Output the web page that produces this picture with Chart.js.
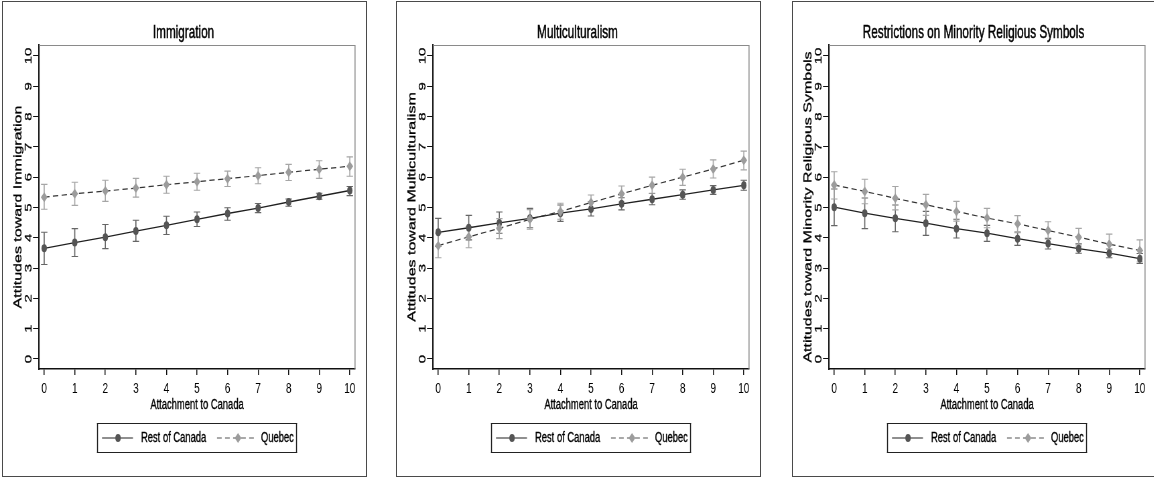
<!DOCTYPE html>
<html><head><meta charset="utf-8">
<script src="https://cdn.jsdelivr.net/npm/chart.js@4.4.1/dist/chart.umd.min.js"></script>
<style>
html,body{margin:0;padding:0;background:#fff;width:1154px;height:478px;overflow:hidden;position:relative;}
.frame{position:absolute;top:1px;height:476px;width:365px;border:1px solid #4a4a4a;box-sizing:border-box;}
.wrap{position:absolute;top:0;transform-origin:0 0;}
canvas{display:block;}
</style></head><body>
<script>
// ---- data ----
const attachment = [0,1,2,3,4,5,6,7,8,9,10];
const xTickValues = [0,1,2,3,4,5,6,7,8,9,10];
const yTickValues = [0,1,2,3,4,5,6,7,8,9,10];
const seriesNames = ['Rest of Canada', 'Quebec'];
const panelTitles = ['Immigration', 'Multiculturalism', 'Restrictions on Minority Religious Symbols'];
const yTitles = ['Attitudes toward Immigration', 'Attitudes toward Multiculturalism', 'Attitudes toward Minority Religious Symbols'];
const xTitle = 'Attachment to Canada';

const immRoc   = [3.65, 3.84, 4.02, 4.22, 4.41, 4.61, 4.80, 4.98, 5.18, 5.37, 5.56];
const immRocLo = [3.12, 3.38, 3.64, 3.88, 4.11, 4.37, 4.58, 4.83, 5.04, 5.27, 5.39];
const immRocHi = [4.18, 4.30, 4.44, 4.58, 4.71, 4.85, 4.99, 5.13, 5.28, 5.47, 5.69];
const immQc    = [5.34, 5.45, 5.54, 5.64, 5.75, 5.85, 5.95, 6.05, 6.16, 6.26, 6.36];
const immQcLo  = [4.94, 5.07, 5.20, 5.34, 5.47, 5.57, 5.69, 5.78, 5.89, 5.96, 6.03];
const immQcHi  = [5.76, 5.83, 5.90, 5.96, 6.03, 6.13, 6.20, 6.31, 6.42, 6.54, 6.67];

const mcRoc    = [4.18, 4.33, 4.49, 4.64, 4.81, 4.95, 5.12, 5.27, 5.42, 5.58, 5.73];
const mcRocLo  = [3.71, 3.93, 4.15, 4.33, 4.54, 4.72, 4.92, 5.09, 5.27, 5.43, 5.57];
const mcRocHi  = [4.64, 4.74, 4.85, 4.97, 5.08, 5.19, 5.32, 5.46, 5.58, 5.72, 5.90];
const mcQc     = [3.74, 4.03, 4.31, 4.61, 4.87, 5.16, 5.45, 5.73, 6.00, 6.27, 6.56];
const mcQcLo   = [3.34, 3.67, 3.97, 4.28, 4.61, 4.92, 5.18, 5.47, 5.73, 5.97, 6.24];
const mcQcHi   = [4.15, 4.37, 4.63, 4.93, 5.14, 5.41, 5.71, 6.00, 6.26, 6.57, 6.86];

const relRoc   = [5.01, 4.81, 4.64, 4.48, 4.30, 4.15, 3.97, 3.81, 3.64, 3.49, 3.31];
const relRocLo = [4.40, 4.30, 4.20, 4.08, 3.99, 3.88, 3.75, 3.63, 3.49, 3.34, 3.15];
const relRocHi = [5.61, 5.31, 5.08, 4.87, 4.61, 4.41, 4.19, 3.98, 3.80, 3.63, 3.48];
const relQc    = [5.74, 5.53, 5.30, 5.09, 4.87, 4.65, 4.46, 4.24, 4.02, 3.79, 3.58];
const relQcLo  = [5.28, 5.12, 4.92, 4.74, 4.55, 4.33, 4.17, 3.95, 3.73, 3.46, 3.20];
const relQcHi  = [6.18, 5.93, 5.69, 5.43, 5.20, 4.97, 4.73, 4.53, 4.31, 4.12, 3.93];

// ---- layout / style ----
const F = 0.67;                 // horizontal squeeze of the original image
const N = v => v / F;           // final px -> natural canvas px
const panelLefts = [2, 396, 792];
const CW = Math.round(N(366)), CH = 478;
const FONT = '"Liberation Sans", Arial, sans-serif';
const TXT = '#000';
const ROC_MARK = '#555555', ROC_LINE = '#202020', ROC_CI = '#666666';
const QC_MARK = '#9c9c9c', QC_LINE = '#333333', QC_CI = '#a6a6a6';

const panels = [
  {title: panelTitles[0], yTitle: yTitles[0], roc: immRoc, rocLo: immRocLo, rocHi: immRocHi, qc: immQc, qcLo: immQcLo, qcHi: immQcHi},
  {title: panelTitles[1], yTitle: yTitles[1], roc: mcRoc, rocLo: mcRocLo, rocHi: mcRocHi, qc: mcQc, qcLo: mcQcLo, qcHi: mcQcHi},
  {title: panelTitles[2], yTitle: yTitles[2], roc: relRoc, rocLo: relRocLo, rocHi: relRocHi, qc: relQc, qcLo: relQcLo, qcHi: relQcHi}
];

function heavyText(ctx, s, x, y, w) {
  ctx.fillText(s, x, y);
  ctx.lineWidth = w; ctx.strokeStyle = ctx.fillStyle;
  ctx.strokeText(s, x, y);
}

function extrasPlugin(p) {
  return {
    id: 'extras',
    beforeDatasetsDraw(chart) {
      const ctx = chart.ctx, xs = chart.scales.x, ys = chart.scales.y;
      const sets = [[p.rocLo, p.rocHi, ROC_CI], [p.qcLo, p.qcHi, QC_CI]];
      ctx.save();
      sets.forEach(([lo, hi, col]) => {
        ctx.strokeStyle = col;
        attachment.forEach((a, i) => {
          const x = xs.getPixelForValue(a);
          const y1 = ys.getPixelForValue(lo[i]), y2 = ys.getPixelForValue(hi[i]);
          ctx.lineWidth = N(1.1);
          ctx.beginPath(); ctx.moveTo(x, y1); ctx.lineTo(x, y2); ctx.stroke();
          ctx.lineWidth = 1.1;
          const w = N(3.2);
          ctx.beginPath(); ctx.moveTo(x - w, y1); ctx.lineTo(x + w, y1);
          ctx.moveTo(x - w, y2); ctx.lineTo(x + w, y2); ctx.stroke();
        });
      });
      ctx.restore();
    },
    afterDraw(chart) {
      const ctx = chart.ctx, ca = chart.chartArea, ys = chart.scales.y;
      ctx.save();
      // plot region box (top & right)
      ctx.strokeStyle = '#8a8a8a';
      ctx.lineWidth = 1;
      ctx.beginPath(); ctx.moveTo(ca.left, ca.top + 0.5); ctx.lineTo(ca.right, ca.top + 0.5); ctx.stroke();
      ctx.lineWidth = N(1);
      ctx.beginPath(); ctx.moveTo(ca.right, ca.top); ctx.lineTo(ca.right, ca.bottom); ctx.stroke();
      ctx.fillStyle = TXT;
      // title
      ctx.font = '17.5px ' + FONT;
      ctx.textAlign = 'center'; ctx.textBaseline = 'alphabetic';
      heavyText(ctx, p.title, N(181.5), 37.5, 0.5);
      // x title
      ctx.font = '14px ' + FONT;
      ctx.textBaseline = 'middle';
      heavyText(ctx, xTitle, (ca.left + ca.right) / 2, 405, 0.35);
      // y tick labels (rotated)
      ctx.font = '15px ' + FONT;
      yTickValues.forEach(v => {
        ctx.save();
        ctx.translate(N(26.5), ys.getPixelForValue(v));
        ctx.rotate(-Math.PI / 2);
        ctx.textAlign = 'center'; ctx.textBaseline = 'middle';
        heavyText(ctx, String(v), 0, 0, 0.3);
        ctx.restore();
      });
      // y title
      ctx.save();
      ctx.translate(N(16.5), (ca.top + ca.bottom) / 2);
      ctx.rotate(-Math.PI / 2);
      ctx.font = '16px ' + FONT;
      ctx.textAlign = 'center'; ctx.textBaseline = 'middle';
      heavyText(ctx, p.yTitle, 0, 0, 0.35);
      ctx.restore();
      // legend
      const ly = 438;
      ctx.strokeStyle = '#222';
      ctx.lineWidth = 1;
      ctx.beginPath(); ctx.moveTo(N(95), 423.5); ctx.lineTo(N(295), 423.5);
      ctx.moveTo(N(95), 452.5); ctx.lineTo(N(295), 452.5); ctx.stroke();
      ctx.lineWidth = N(1);
      ctx.beginPath(); ctx.moveTo(N(95.5), 423); ctx.lineTo(N(95.5), 453);
      ctx.moveTo(N(294.5), 423); ctx.lineTo(N(294.5), 453); ctx.stroke();
      // RoC sample
      ctx.strokeStyle = ROC_LINE; ctx.lineWidth = 1.2;
      ctx.beginPath(); ctx.moveTo(N(100), ly); ctx.lineTo(N(131), ly); ctx.stroke();
      ctx.fillStyle = ROC_MARK;
      ctx.beginPath(); ctx.arc(N(116), ly, 4, 0, Math.PI * 2); ctx.fill();
      // Quebec sample
      ctx.strokeStyle = '#555'; ctx.setLineDash([7, 5]);
      ctx.beginPath(); ctx.moveTo(N(215), ly); ctx.lineTo(N(255), ly); ctx.stroke();
      ctx.setLineDash([]);
      ctx.fillStyle = QC_MARK;
      const dx = N(236);
      ctx.beginPath(); ctx.moveTo(dx - 5, ly); ctx.lineTo(dx, ly - 5); ctx.lineTo(dx + 5, ly); ctx.lineTo(dx, ly + 5); ctx.closePath(); ctx.fill();
      ctx.fillStyle = TXT;
      ctx.font = '14px ' + FONT;
      ctx.textAlign = 'left'; ctx.textBaseline = 'middle';
      heavyText(ctx, seriesNames[0], N(139), ly, 0.35);
      heavyText(ctx, seriesNames[1], N(259), ly, 0.35);
      ctx.restore();
    }
  };
}

panels.forEach((p, k) => {
  const frame = document.createElement('div');
  frame.className = 'frame';
  frame.style.left = panelLefts[k] + 'px';
  document.body.appendChild(frame);
  const wrap = document.createElement('div');
  wrap.className = 'wrap';
  wrap.style.left = panelLefts[k] + 'px';
  wrap.style.transform = 'scaleX(' + F + ')';
  const cv = document.createElement('canvas');
  cv.width = CW; cv.height = CH;
  cv.style.width = CW + 'px'; cv.style.height = CH + 'px';
  wrap.appendChild(cv);
  document.body.appendChild(wrap);

  new Chart(cv, {
    type: 'line',
    data: {
      datasets: [
        {label: seriesNames[0], data: attachment.map((a, i) => ({x: a, y: p.roc[i]})),
         borderColor: ROC_LINE, borderWidth: 1.3, pointStyle: 'circle', pointRadius: 4,
         pointBackgroundColor: ROC_MARK, pointBorderColor: ROC_MARK, pointBorderWidth: 0, order: 1, tension: 0},
        {label: seriesNames[1], data: attachment.map((a, i) => ({x: a, y: p.qc[i]})),
         borderColor: QC_LINE, borderWidth: 1.2, borderDash: [8, 5], pointStyle: 'rectRot', pointRadius: 5,
         pointBackgroundColor: QC_MARK, pointBorderColor: QC_MARK, pointBorderWidth: 0, order: 0, tension: 0}
      ]
    },
    options: {
      responsive: false, animation: false, devicePixelRatio: 1,
      layout: {padding: {top: 45, left: 0, bottom: 0, right: CW - N(353)}},
      plugins: {legend: {display: false}, title: {display: false}, tooltip: {enabled: false}},
      scales: {
        x: {
          type: 'linear', min: -0.17, max: 10.17,
          afterBuildTicks: s => { s.ticks = xTickValues.map(v => ({value: v})); },
          afterFit: s => { s.height = CH - 369; },
          border: {display: true, color: '#111', width: 1.4},
          grid: {display: true, drawOnChartArea: false, drawTicks: true, tickLength: 6, color: '#111', lineWidth: N(1)},
          ticks: {autoSkip: false, maxRotation: 0, minRotation: 0, padding: 5, color: TXT, font: {family: FONT, size: 15}}
        },
        y: {
          type: 'linear', min: -0.33, max: 10.36,
          afterBuildTicks: s => { s.ticks = yTickValues.map(v => ({value: v})); },
          afterFit: s => { s.width = N(37); },
          border: {display: true, color: '#111', width: N(1.4)},
          grid: {display: true, drawOnChartArea: false, drawTicks: true, tickLength: N(6), color: '#111', lineWidth: 1},
          ticks: {display: false}
        }
      }
    },
    plugins: [extrasPlugin(p)]
  });
});
</script>
</body></html>
